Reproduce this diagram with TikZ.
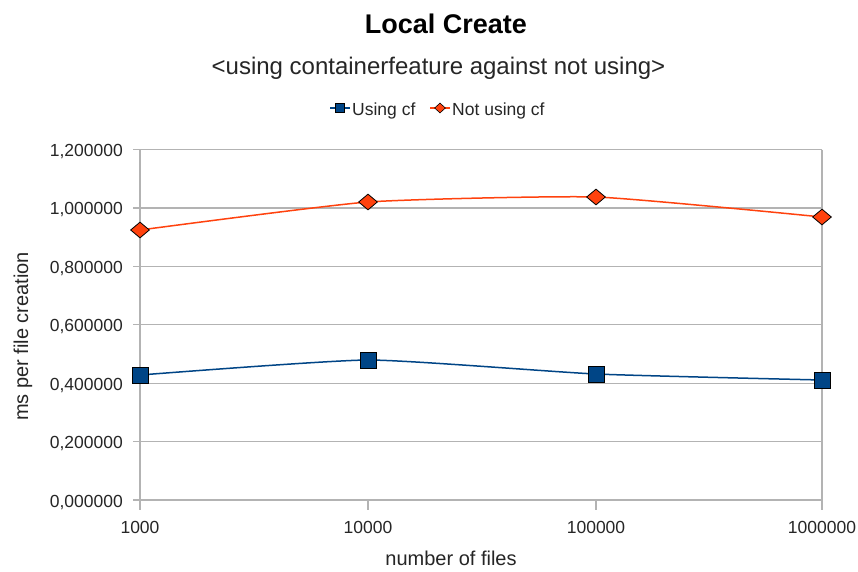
\documentclass[tikz,border=0pt]{standalone}
\usepackage{fontspec}
\setmainfont{Liberation Sans}
\usetikzlibrary{shapes.geometric}
\definecolor{seriesblue}{HTML}{004586}
\definecolor{seriesorange}{HTML}{FF420E}
\definecolor{gridgray}{HTML}{B3B3B3}
\tikzset{
  gridline/.style={draw=gridgray, line width=1.3pt},
  sqmark/.style={rectangle, draw=black, fill=seriesblue, line width=0.9pt, minimum size=16pt, inner sep=0pt},
  diamark/.style={diamond, draw=black, fill=seriesorange, line width=0.8pt, minimum width=19pt, minimum height=16pt, inner sep=0pt},
  legsq/.style={rectangle, draw=black, fill=seriesblue, line width=0.7pt, minimum size=8.5pt, inner sep=0pt},
  legdia/.style={diamond, draw=black, fill=seriesorange, line width=0.6pt, minimum width=11pt, minimum height=10pt, inner sep=0pt},
  ticklab/.style={font=\fontsize{17.5}{20}\selectfont, text=black!85, inner sep=0pt},
  axtitle/.style={font=\fontsize{20}{24}\selectfont, text=black!85, inner sep=0pt},
  bluecurve/.style={draw=seriesblue, line width=1.5pt},
  orangecurve/.style={draw=seriesorange, line width=1.5pt},
}
\begin{document}
\begin{tikzpicture}[x=1pt, y=-1pt]
\useasboundingbox[fill=white] (0,0) rectangle (858,571);

% titles
\node[font=\bfseries\fontsize{27}{32}\selectfont, anchor=base, inner sep=0pt] (title) at (446,33) {Local Create};
\node[font=\fontsize{24}{28}\selectfont, anchor=base, inner sep=0pt, text=black!85] (subtitle) at (438.5,74) {<using containerfeature against not using>};

% legend
\coordinate (lbA) at (330,108);
\coordinate (lbB) at (350,108);
\draw[bluecurve, line width=1.2pt] (lbA) -- (lbB);
\node[legsq] (lbm) at (340,108) {};
\node[ticklab, anchor=base west] (lbt) at (352,115) {Using cf};
\coordinate (loA) at (430,108);
\coordinate (loB) at (450,108);
\draw[orangecurve, line width=1.2pt] (loA) -- (loB);
\node[legdia] (lom) at (440,108) {};
\node[ticklab, anchor=base west] (lot) at (452,115) {Not using cf};

% horizontal grid lines with y tick labels
\foreach \v/\lab [count=\i] in {0/{0,000000},1/{0,200000},2/{0,400000},3/{0,600000},4/{0,800000},5/{1,000000},6/{1,200000}}{
  \pgfmathsetmacro{\yy}{500-58.42*\v}
  \coordinate (gl\i) at (133,\yy);
  \coordinate (gr\i) at (822,\yy);
  \draw[gridline] (gl\i) -- (gr\i);
  \node[ticklab, anchor=base east] (yl\i) at (123,\yy+7) {\lab};
}

% vertical axis lines and x ticks
\coordinate (axTop) at (140,149.5);
\coordinate (axBot) at (140,510);
\coordinate (rbTop) at (822,149.5);
\coordinate (rbBot) at (822,510);
\draw[gridline] (axTop) -- (axBot);
\draw[gridline] (rbTop) -- (rbBot);
\coordinate (t2a) at (368,500); \coordinate (t2b) at (368,510);
\coordinate (t3a) at (596,500); \coordinate (t3b) at (596,510);
\draw[gridline] (t2a) -- (t2b);
\draw[gridline] (t3a) -- (t3b);

% x tick labels
\node[ticklab, anchor=base] (xl1) at (140,533) {1000};
\node[ticklab, anchor=base] (xl2) at (368,533) {10000};
\node[ticklab, anchor=base] (xl3) at (596,533) {100000};
\node[ticklab, anchor=base] (xl4) at (822,533) {1000000};

% axis titles
\node[axtitle, anchor=base] (xtitle) at (451,565) {number of files};
\node[axtitle, anchor=base, rotate=90] (ytitle) at (28,336.5) {ms per file creation};

% data points
\coordinate (b1) at (140,375);
\coordinate (b2) at (368,360);
\coordinate (b3) at (596,374);
\coordinate (b4) at (822,380);
\coordinate (o1) at (140,230);
\coordinate (o2) at (368,202);
\coordinate (o3) at (596,197);
\coordinate (o4) at (822,217);

% smoothed series lines
\draw[bluecurve] plot[smooth, tension=0.3] coordinates {(b1) (b2) (b3) (b4)};
\draw[orangecurve] plot[smooth, tension=0.3] coordinates {(o1) (o2) (o3) (o4)};

% markers
\foreach \i in {1,2,3,4}{
  \node[sqmark] (bm\i) at (b\i) {};
  \node[diamark] (om\i) at (o\i) {};
}
\end{tikzpicture}
\end{document}
